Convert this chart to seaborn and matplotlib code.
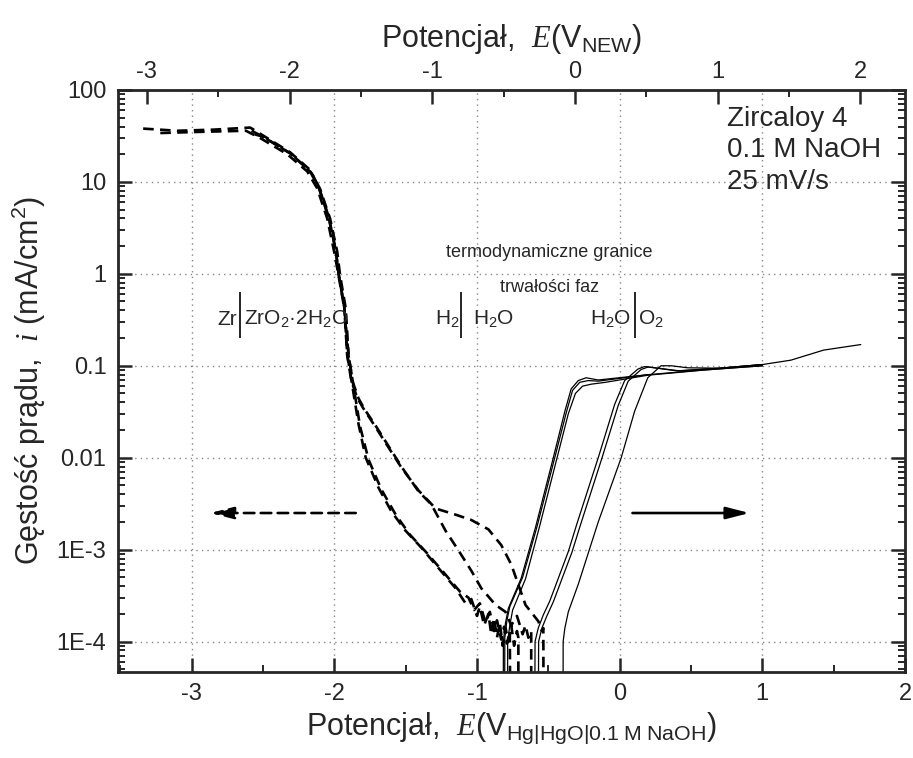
import numpy as np
import pandas as pd
import matplotlib
matplotlib.use("Agg")
import matplotlib.pyplot as plt
from matplotlib.ticker import FixedLocator, FixedFormatter, LogLocator, NullFormatter, MultipleLocator
import seaborn as sns

# cathodic sweeps (dashed), E vs Hg|HgO|0.1 M NaOH, i in mA/cm2
cath1_E = [-3.34, -3.10, -2.85, -2.59, -2.50, -2.31, -2.17, -2.11, -2.04, -1.99, -1.97, -1.93, -1.91, -1.88, -1.83,
           -1.78, -1.69, -1.60, -1.50, -1.39, -1.27, -1.15, -1.08, -1.04, -1.00, -0.98, -0.95, -0.92, -0.90, -0.88,
           -0.86, -0.84, -0.82, -0.80, -0.78, -0.76, -0.74, -0.72, -0.71, -0.71]
cath1_i = [38, 36, 37, 39, 32, 21, 13.5, 8.9, 4.2, 1.8, 1.0, 0.44, 0.135, 0.069, 0.023,
           0.010, 4.7e-3, 2.6e-3, 1.6e-3, 1.05e-3, 6.3e-4, 3.8e-4, 2.6e-4, 2.9e-4, 1.9e-4, 2.4e-4, 1.5e-4, 2.0e-4, 1.2e-4, 1.8e-4,
           1.1e-4, 1.6e-4, 0.9e-4, 1.4e-4, 1.0e-4, 1.5e-4, 0.9e-4, 1.3e-4, 1.1e-4, 1e-7]

cath2_E = [-3.22, -2.95, -2.62, -2.52, -2.33, -2.19, -2.12, -2.05, -2.00, -1.97, -1.93, -1.90, -1.87, -1.82, -1.76,
           -1.67, -1.57, -1.47, -1.36, -1.24, -1.12, -1.06, -1.02, -0.98, -0.94, -0.91, -0.88, -0.86, -0.83, -0.81,
           -0.79, -0.77, -0.76]
cath2_i = [34, 35, 36, 30, 20, 13, 8.5, 4.0, 1.7, 0.95, 0.42, 0.13, 0.066, 0.022, 0.0095,
           4.5e-3, 2.4e-3, 1.45e-3, 9.5e-4, 5.8e-4, 3.5e-4, 3.0e-4, 2.2e-4, 2.6e-4, 1.6e-4, 2.1e-4, 1.3e-4, 1.7e-4, 1.05e-4, 1.45e-4,
           0.95e-4, 1.3e-4, 1e-7]

cath3_E = [-2.56, -2.50, -2.31, -2.17, -2.11, -2.04, -1.99, -1.97, -1.93, -1.91, -1.88, -1.84, -1.80, -1.71, -1.62,
           -1.53, -1.41, -1.29, -1.15, -1.04, -0.92, -0.83, -0.76, -0.66, -0.57, -0.545, -0.535, -0.53]
cath3_i = [33, 31, 20.5, 13, 8.7, 4.1, 1.8, 1.0, 0.43, 0.13, 0.068, 0.045, 0.035, 0.0214, 0.0129,
           7.8e-3, 4.4e-3, 2.8e-3, 2.4e-3, 2.1e-3, 1.66e-3, 1.12e-3, 6.9e-4, 2.5e-4, 1.66e-4, 1.3e-4, 1.4e-4, 1e-7]

cath4_E = [-2.58, -2.50, -2.30, -2.16, -2.10, -2.03, -1.98, -1.96, -1.92, -1.90, -1.87, -1.83, -1.79, -1.70, -1.61,
           -1.52, -1.41, -1.32, -1.22, -1.13, -1.04, -0.97, -0.87, -0.80, -0.76, -0.72, -0.68, -0.66, -0.64, -0.62, -0.62]
cath4_i = [36, 31, 20, 12.5, 8.4, 4.0, 1.75, 0.97, 0.42, 0.128, 0.066, 0.044, 0.034, 0.021, 0.0126,
           7.6e-3, 4.3e-3, 3.1e-3, 1.6e-3, 9.8e-4, 5.9e-4, 3.8e-4, 2.5e-4, 2.1e-4, 1.5e-4, 1.9e-4, 1.2e-4, 1.5e-4, 1.1e-4, 1.3e-4, 1e-7]

# anodic sweeps (solid)
anod1_E = [-0.82, -0.815, -0.80, -0.78, -0.69, -0.59, -0.465, -0.384, -0.34, -0.29, -0.235, -0.15, 0.20, 0.55, 1.0]
anod1_i = [1e-7, 1.0e-4, 1.6e-4, 2.3e-4, 4.9e-4, 1.74e-3, 0.010, 0.032, 0.056, 0.069, 0.074, 0.070, 0.080, 0.089, 0.10]

anod2_E = [-0.81, -0.805, -0.79, -0.77, -0.68, -0.58, -0.455, -0.374, -0.33, -0.28, -0.22, -0.15, 0.20]
anod2_i = [1e-7, 1.1e-4, 1.7e-4, 2.4e-4, 5.0e-4, 1.76e-3, 0.010, 0.031, 0.054, 0.066, 0.069, 0.068, 0.080]

anod3_E = [-0.79, -0.785, -0.77, -0.75, -0.66, -0.565, -0.44, -0.36, -0.31, -0.26, -0.20, -0.10, 0.20, 0.60, 1.0]
anod3_i = [1e-7, 1.0e-4, 1.5e-4, 2.2e-4, 4.8e-4, 1.7e-3, 0.0098, 0.030, 0.050, 0.060, 0.063, 0.066, 0.079, 0.090, 0.10]

anod4_E = [-0.60, -0.593, -0.57, -0.535, -0.49, -0.36, -0.30, -0.15, -0.035, 0.035, 0.128, 0.174, 0.244, 0.40, 0.70, 1.0]
anod4_i = [1e-7, 1.0e-4, 1.41e-4, 1.95e-4, 2.75e-4, 9.5e-4, 1.9e-3, 0.010, 0.038, 0.069, 0.092, 0.098, 0.095, 0.088, 0.094, 0.103]

anod5_E = [-0.575, -0.568, -0.545, -0.51, -0.465, -0.335, -0.275, -0.125, -0.01, 0.06, 0.15, 0.20, 0.27, 0.42, 0.70, 1.0]
anod5_i = [1e-7, 1.0e-4, 1.4e-4, 1.9e-4, 2.7e-4, 9.3e-4, 1.85e-3, 0.0098, 0.037, 0.068, 0.091, 0.097, 0.094, 0.088, 0.094, 0.103]

anod6_E = [-0.40, -0.396, -0.384, -0.36, -0.29, -0.15, 0.011, 0.105, 0.197, 0.29, 0.36, 0.477, 0.70, 1.0, 1.2, 1.43, 1.69]
anod6_i = [1e-7, 1.0e-4, 1.4e-4, 2.1e-4, 4.2e-4, 2.0e-3, 0.010, 0.032, 0.074, 0.10, 0.10, 0.095, 0.094, 0.103, 0.115, 0.148, 0.17]

# equilibrium potentials (Hg|HgO scale): Zr/ZrO2.2H2O, H2/H2O, H2O/O2
eq_E = [-2.66, -1.11, 0.107]
# offset to the NEW (hydrogen electrode) scale
nhe_offset = 0.314

xtick_vals = [-3, -2, -1, 0, 1, 2]
ytick_vals = [100, 10, 1, 0.1, 0.01, 1e-3, 1e-4]
ytick_labels = ["100", "10", "1", "0.1", "0.01", "1E-3", "1E-4"]

cath = [(cath1_E, cath1_i), (cath2_E, cath2_i), (cath3_E, cath3_i), (cath4_E, cath4_i)]
anod = [(anod1_E, anod1_i), (anod2_E, anod2_i), (anod3_E, anod3_i),
        (anod4_E, anod4_i), (anod5_E, anod5_i), (anod6_E, anod6_i)]

rows = []
for n, (E, i) in enumerate(cath):
    rows += [dict(E=e, i=v, curve=f"c{n}", kind="cathodic") for e, v in zip(E, i)]
for n, (E, i) in enumerate(anod):
    rows += [dict(E=e, i=v, curve=f"a{n}", kind="anodic") for e, v in zip(E, i)]
df = pd.DataFrame(rows)

sns.set_style("ticks")
plt.rcParams["font.family"] = ["Liberation Sans", "DejaVu Sans"]
plt.rcParams["axes.unicode_minus"] = False
plt.rcParams["mathtext.fontset"] = "custom"
plt.rcParams["mathtext.it"] = "Liberation Serif:italic"
plt.rcParams["mathtext.rm"] = "Liberation Sans"
plt.rcParams["mathtext.default"] = "regular"

fig = plt.figure(figsize=(9.13, 7.58), dpi=100)
ax = fig.add_axes([0.1287, 0.1139, 0.8625, 0.7674])
ax.set_yscale("log")

sns.lineplot(data=df[df.kind == "cathodic"], x="E", y="i", units="curve", estimator=None, sort=False,
             style="kind", dashes={"cathodic": (4, 2.4)}, color="black", lw=1.9, legend=False, ax=ax)
sns.lineplot(data=df[df.kind == "anodic"], x="E", y="i", units="curve", estimator=None, sort=False,
             color="black", lw=0.9, legend=False, ax=ax)

ax.set_xlim(-3.52, 2.0)
ax.set_ylim(4.7e-5, 100)

ax.xaxis.set_major_locator(FixedLocator(xtick_vals))
ax.xaxis.set_minor_locator(MultipleLocator(0.5))
ax.yaxis.set_major_locator(FixedLocator(ytick_vals))
ax.yaxis.set_major_formatter(FixedFormatter(ytick_labels))
ax.yaxis.set_minor_locator(LogLocator(base=10, subs=np.arange(2, 10), numticks=20))
ax.yaxis.set_minor_formatter(NullFormatter())

ax.grid(which="major", linestyle=(0, (1, 3)), color="#888888", lw=1)
ax.tick_params(which="major", direction="in", length=10, width=1.8, labelsize=17, right=True, top=False, pad=8)
ax.tick_params(which="minor", direction="in", length=5, width=1.4, right=True, top=False)
for s in ax.spines.values():
    s.set_linewidth(2)
    s.set_visible(True)

ax.set_xlabel("Potencjał,  $\\mathit{E}$(V$_{Hg|HgO|0.1\\ M\\ NaOH}$)", fontsize=22, labelpad=4)
ax.set_ylabel("Gęstość prądu,  $\\mathit{i}$ (mA/cm$^{2}$)", fontsize=22, labelpad=6)

top = ax.secondary_xaxis("top", functions=(lambda x: x + nhe_offset, lambda x: x - nhe_offset))
top.xaxis.set_major_locator(FixedLocator(xtick_vals))
top.xaxis.set_minor_locator(MultipleLocator(0.5))
top.tick_params(which="major", direction="in", length=10, width=1.8, labelsize=17, pad=5)
top.tick_params(which="minor", direction="in", length=5, width=1.4)
top.set_xlabel("Potencjał,  $\\mathit{E}$(V$_{NEW}$)", fontsize=22, labelpad=10)

# phase boundary markers
ax.vlines(eq_E, 0.2, 0.63, color="black", lw=1.2)
ax.text(0.152, 0.596, "Zr", transform=ax.transAxes, ha="right", va="baseline", fontsize=15)
ax.text(0.161, 0.596, "ZrO$_2$·2H$_2$O", transform=ax.transAxes, ha="left", va="baseline", fontsize=15)
ax.text(0.434, 0.596, "H$_2$", transform=ax.transAxes, ha="right", va="baseline", fontsize=15)
ax.text(0.452, 0.596, "H$_2$O", transform=ax.transAxes, ha="left", va="baseline", fontsize=15)
ax.text(0.652, 0.596, "H$_2$O", transform=ax.transAxes, ha="right", va="baseline", fontsize=15)
ax.text(0.661, 0.596, "O$_2$", transform=ax.transAxes, ha="left", va="baseline", fontsize=15)
ax.text(0.548, 0.720, "termodynamiczne granice", transform=ax.transAxes, ha="center", va="center", fontsize=13)
ax.text(0.549, 0.661, "trwałości faz", transform=ax.transAxes, ha="center", va="center", fontsize=13)

ax.text(0.7745, 0.972, "Zircaloy 4\n0.1 M NaOH\n25 mV/s", transform=ax.transAxes, ha="left", va="top",
        fontsize=20, linespacing=1.26)

# sweep direction arrows
ax.annotate("", xy=(-2.87, 2.5e-3), xytext=(-1.85, 2.5e-3),
            arrowprops=dict(arrowstyle="-|>,head_length=0.7,head_width=0.18", color="black", lw=1.9,
                            linestyle=(0, (4, 2.4)), mutation_scale=20, shrinkA=0, shrinkB=0))
ax.annotate("", xy=(0.91, 2.5e-3), xytext=(0.09, 2.5e-3),
            arrowprops=dict(arrowstyle="-|>,head_length=0.7,head_width=0.18", color="black", lw=1.9,
                            mutation_scale=20, shrinkA=0, shrinkB=0))

fig.savefig("out.png", dpi=100)
